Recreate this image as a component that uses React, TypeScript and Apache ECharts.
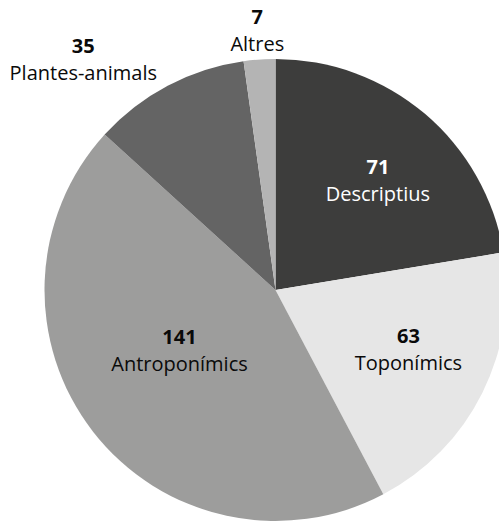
import React, { useEffect, useRef } from "react";
import * as echarts from "echarts";

const categories = ["Descriptius", "Toponímics", "Antroponímics", "Plantes-animals", "Altres"];
const values = [71, 63, 141, 35, 7];
const colors = ["#3d3d3c", "#e6e6e6", "#9d9d9c", "#646464", "#b4b4b4"];
const labelColors = ["#ffffff", "#0a0a0a", "#0a0a0a", "#0a0a0a", "#0a0a0a"];

// label anchor placement: [radius fraction, angle in degrees (math, counter-clockwise from +x)]
const labelPlacement: [number, number][] = [
  [0.65, 47],
  [0.63, -24],
  [0.49, -148],
  [1.3, 129.8],
  [1.13, 94],
];

const CX = 275.5;
const CY = 290;
const R = 231;

export default function App() {
  const ref = useRef<HTMLDivElement>(null);
  useEffect(() => {
    if (!ref.current) return;
    const chart = echarts.init(ref.current, null, { renderer: "svg" });
    chart.setOption({
      animation: false,
      backgroundColor: "#ffffff",
      series: [
        {
          type: "pie",
          center: [CX, CY],
          radius: [0, R],
          startAngle: 90,
          clockwise: true,
          silent: true,
          itemStyle: { borderWidth: 0 },
          labelLine: { show: false },
          label: {
            show: true,
            position: "inside",
            formatter: "{v|{c}}\n{n|{b}}",
            align: "center",
            verticalAlign: "middle",
            rich: {
              v: {
                fontFamily: "Open Sans",
                fontWeight: "bold",
                fontSize: 20,
                lineHeight: 27,
                align: "center",
              },
              n: {
                fontFamily: "Open Sans",
                fontSize: 20,
                lineHeight: 27,
                align: "center",
              },
            },
          },
          labelLayout: (params: any) => {
            const p = labelPlacement[params.dataIndex];
            const a = (p[1] * Math.PI) / 180;
            return {
              x: CX + p[0] * R * Math.cos(a),
              y: CY - p[0] * R * Math.sin(a),
              align: "center",
              verticalAlign: "middle",
            };
          },
          data: categories.map((name, i) => ({
            name,
            value: values[i],
            itemStyle: { color: colors[i] },
            label: {
              rich: {
                v: { color: labelColors[i] },
                n: { color: labelColors[i] },
              },
            },
          })),
        },
      ],
    });
    return () => chart.dispose();
  }, []);
  return (
    <div
      ref={ref}
      style={{ position: "fixed", left: 0, top: 0, width: 499, height: 522 }}
    />
  );
}
